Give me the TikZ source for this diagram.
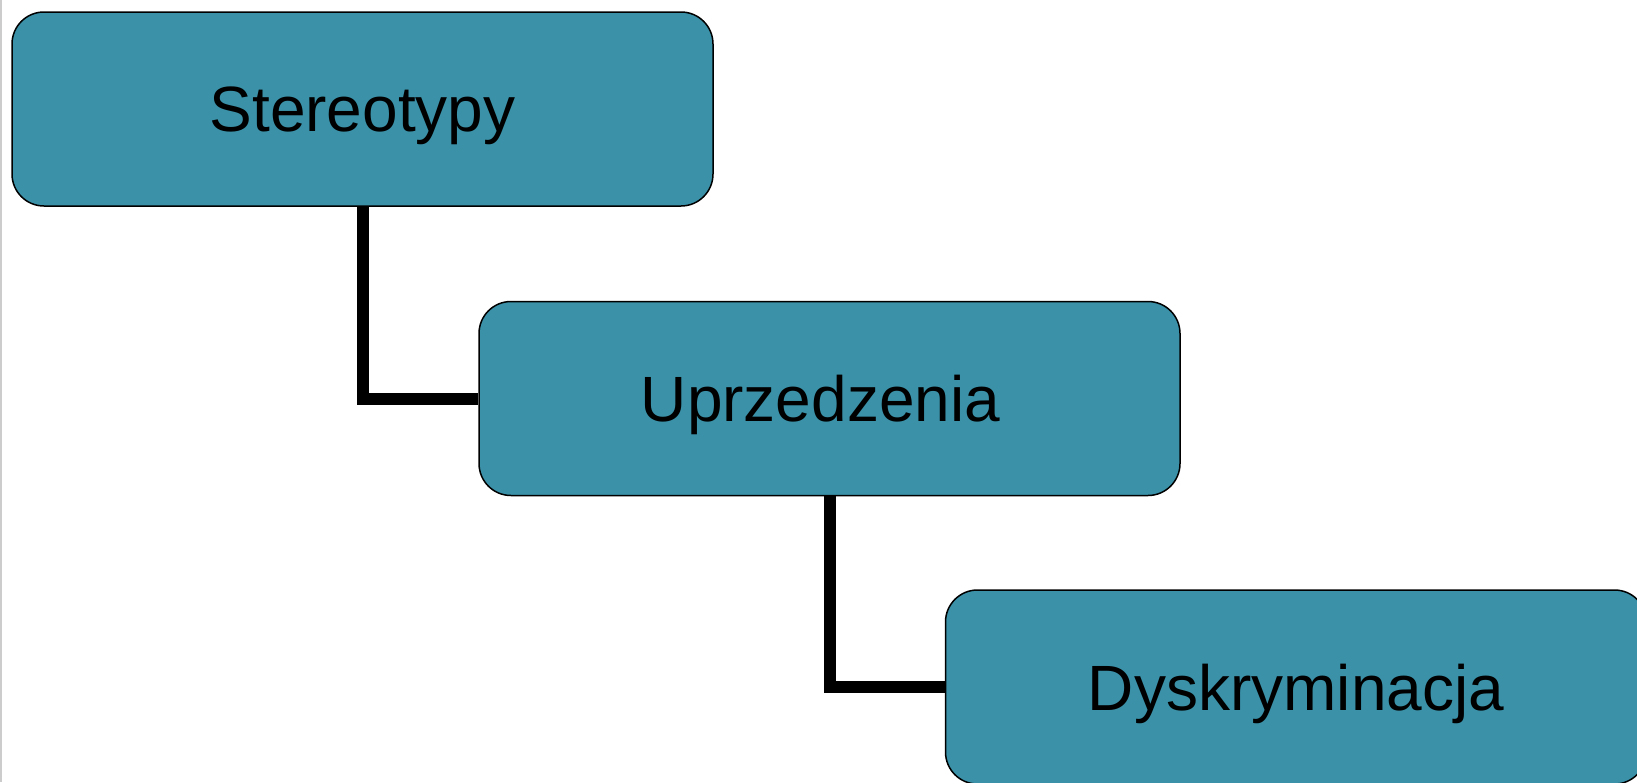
\documentclass[tikz,border=0pt]{standalone}
\usepackage{fontspec}
\setmainfont{Liberation Sans}
\usepackage{tikz}
\usetikzlibrary{positioning}
\definecolor{boxteal}{RGB}{58,145,168}

\begin{document}
\begin{tikzpicture}[x=1pt, y=-1pt,
		box/.style={draw=black, line width=1.5pt, fill=boxteal, rounded corners=32pt,
			minimum width=701pt, minimum height=194pt, inner sep=0pt, text depth=0pt,
			font=\fontsize{64}{76}\selectfont},
		link/.style={line width=12pt}]
				\useasboundingbox[fill=white] (0,0) rectangle (1637,782);
				\draw[gray!40, line width=2pt] (1,0) -- (1,782);
				\node[box] (stereo) at (362.5,109) {Stereotypy};
				\node[box] (uprz) at (829.5,398.5) {Uprzedzenia\hspace*{18pt}};
				\node[box] (dysk) at (1296,687) {Dyskryminacja};
				% each step hangs off the middle of the one above it
				\draw[link] (stereo.south) |- (uprz.west);
				\draw[link] (uprz.south) |- (dysk.west);
			\end{tikzpicture}
\end{document}
